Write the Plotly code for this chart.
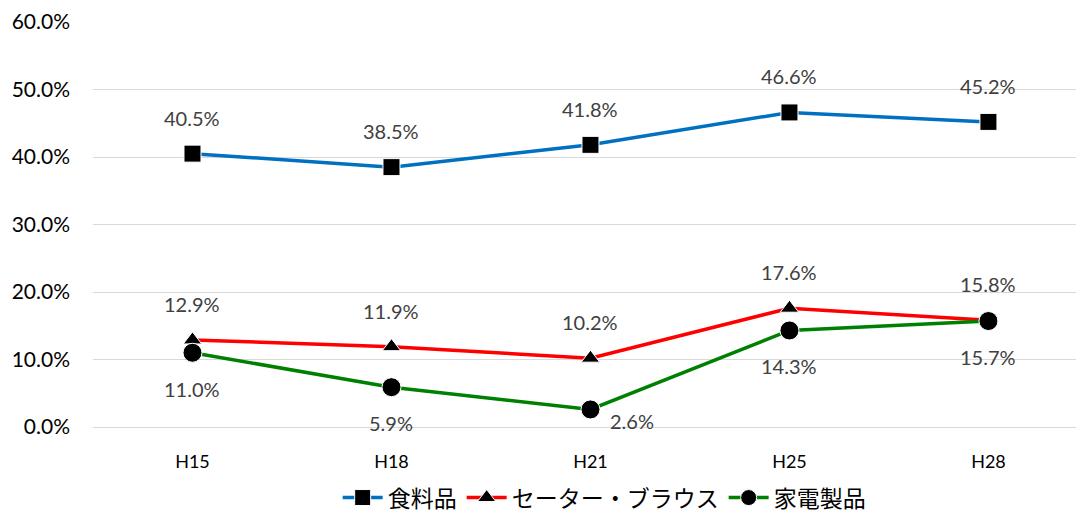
import plotly.graph_objects as go

categories = ["H15", "H18", "H21", "H25", "H28"]
food = [0.405, 0.385, 0.418, 0.466, 0.452]
sweater = [0.129, 0.119, 0.102, 0.176, 0.158]
appliance = [0.110, 0.059, 0.026, 0.143, 0.157]
y_ticks = [0.0, 0.1, 0.2, 0.3, 0.4, 0.5, 0.6]

series = [
    ("食料品", food, "#0070C0", "square", 17),
    ("セーター・ブラウス", sweater, "#FF0000", "triangle-up", 16),
    ("家電製品", appliance, "#008000", "circle", 19),
]

fig = go.Figure()
for name, vals, color, sym, size in series:
    fig.add_trace(go.Scatter(
        x=categories, y=vals, name=name, mode="lines+markers",
        line=dict(color=color, width=3.5),
        marker=dict(symbol=sym, size=size, color="black", line=dict(color="white", width=1)),
    ))

# label offsets (pixels): food above, sweater above, appliance below
offsets = {
    "食料品": [(0, 36)] * 5,
    "セーター・ブラウス": [(0, 36)] * 5,
    "家電製品": [(0, -36), (0, -36), (42, -12), (0, -36), (0, -36)],
}
annots = []
for name, vals, color, sym, size in series:
    for i, (c, v) in enumerate(zip(categories, vals)):
        dx, dy = offsets[name][i]
        annots.append(dict(
            x=c, y=v, xref="x", yref="y", text=f"{v*100:.1f}%", showarrow=False,
            xshift=dx, yshift=dy, font=dict(family="Lato, Open Sans", size=20, color="#404040"),
        ))

fig.update_layout(
    width=1076, height=513,
    margin=dict(l=93, r=0, t=22, b=86, autoexpand=False),
    paper_bgcolor="white", plot_bgcolor="white",
    annotations=annots,
    showlegend=True,
    legend=dict(orientation="h", x=0.52, xanchor="center", y=0.03, yanchor="middle",
                yref="container",
                font=dict(family="Noto Sans CJK JP", size=23, color="black"),
                itemwidth=40, tracegroupgap=0),
    xaxis=dict(range=[-0.5, 4.44], showgrid=False, zeroline=False, showline=False,
               automargin=False, ticks="", ticklabelstandoff=22,
               tickfont=dict(family="Lato, Open Sans", size=18, color="black")),
    yaxis=dict(range=[0, 0.6], tickvals=y_ticks, ticktext=[f"{t*100:.1f}%" for t in y_ticks],
               showgrid=True, gridcolor="#d9d9d9", gridwidth=1, zeroline=True,
               zerolinecolor="#d9d9d9", zerolinewidth=1, showline=False, ticks="",
               automargin=False, ticklabelstandoff=22,
               tickfont=dict(family="Lato, Open Sans", size=21, color="black")),
)

fig.write_html("out.html")
